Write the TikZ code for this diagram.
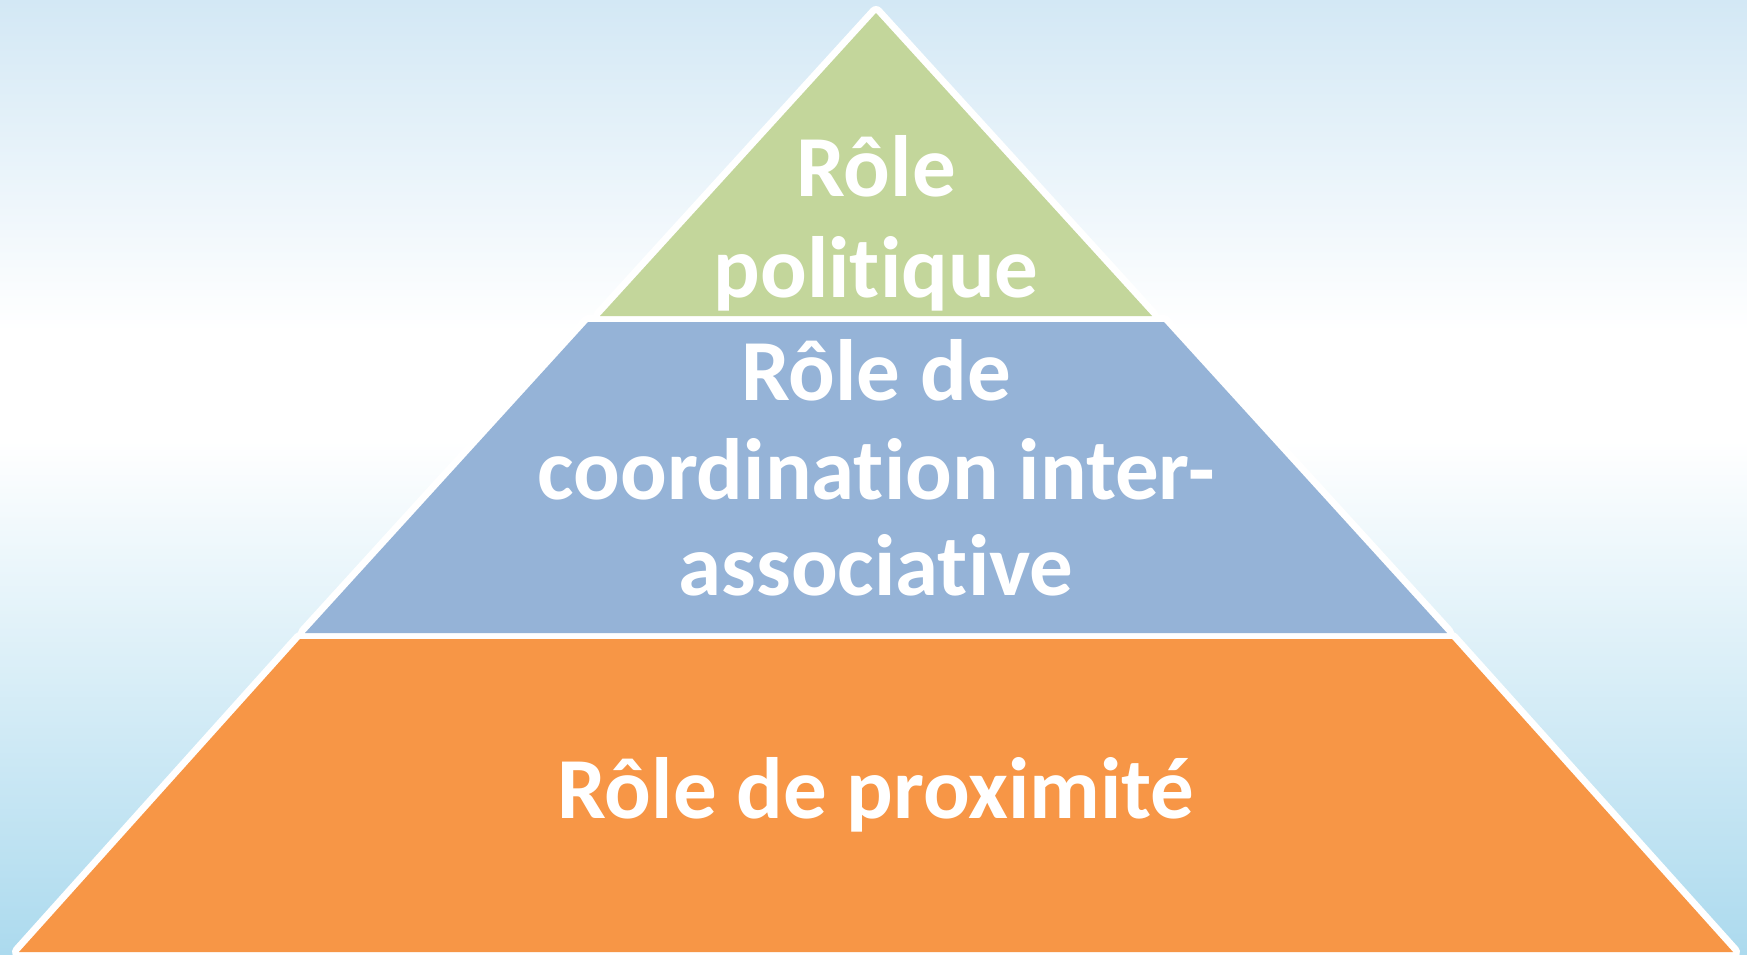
\documentclass[tikz,border=0pt]{standalone}
\usepackage{fontspec}
\setmainfont{Carlito}[RawFeature=-liga]
\begin{document}
\begin{tikzpicture}[x=1pt,y=-1pt,
  bandedge/.style={draw=white,fill=white,line width=14pt,line join=round},
  lbl/.style={text=white,font=\fontsize{87}{101}\selectfont\bfseries,anchor=base,inner sep=0pt}]
\definecolor{skytop}{RGB}{211,232,245}
\definecolor{skybot}{RGB}{172,218,238}
\definecolor{bandgreen}{RGB}{195,214,155}
\definecolor{bandblue}{RGB}{149,179,215}
\definecolor{bandorange}{RGB}{247,150,70}
\useasboundingbox (0,0) rectangle (1747,954);
\clip (0,0) rectangle (1747,954);
% sky background: light blue at both ends, white across the middle
\shade[top color=skytop,bottom color=white] (0,0) rectangle (1747,331);
\fill[white] (0,330) rectangle (1747,441);
\shade[top color=white,bottom color=skybot] (0,440) rectangle (1747,954);
% band corners
\coordinate (gA) at (876,13);
\coordinate (gR) at (1152,316);
\coordinate (gL) at (600,316);
\coordinate (bTL) at (588,322);
\coordinate (bTR) at (1164,322);
\coordinate (bBR) at (1447,633);
\coordinate (bBL) at (305,633);
\coordinate (oTL) at (300,639);
\coordinate (oTR) at (1452,639);
\coordinate (oBR) at (1733,952);
\coordinate (oBL) at (19,952);
% white outlines around each band
\path[bandedge] (gA) -- (gR) -- (gL) -- cycle;
\path[bandedge] (bTL) -- (bTR) -- (bBR) -- (bBL) -- cycle;
\path[bandedge] (oTL) -- (oTR) -- (oBR) -- (oBL) -- cycle;
% band fills
\fill[bandgreen] (gA) -- (gR) -- (gL) -- cycle;
\fill[bandblue] (bTL) -- (bTR) -- (bBR) -- (bBL) -- cycle;
\fill[bandorange] (oTL) -- (oTR) -- (oBR) -- (oBL) -- cycle;
% labels
\node[lbl] (pol1) at (876,196) {Rôle};
\node[lbl] (pol2) at (876,297) {politique};
\node[lbl] (coo1) at (876,400) {Rôle de};
\node[lbl] (coo2) at (876,499) {coordination inter-};
\node[lbl] (coo3) at (876,595) {associative};
\node[lbl] (prox) at (876,818) {Rôle de proximité};
\end{tikzpicture}
\end{document}
